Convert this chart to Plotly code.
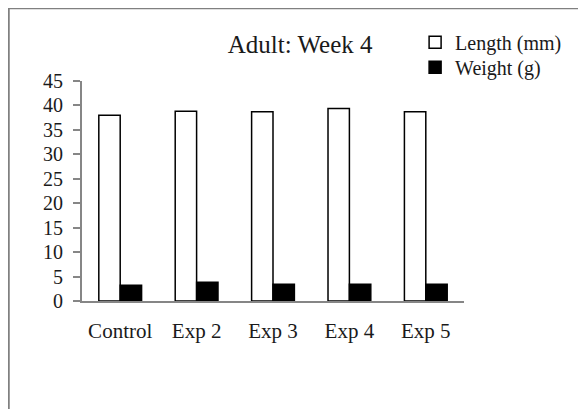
import plotly.graph_objects as go

# Adult: Week 4 - grouped bar chart
categories = ['Control', 'Exp 2', 'Exp 3', 'Exp 4', 'Exp 5']
length_mm = [38.0, 38.8, 38.7, 39.4, 38.7]
weight_g = [3.2, 3.85, 3.45, 3.45, 3.45]
y_ticks = [0, 5, 10, 15, 20, 25, 30, 35, 40, 45]

serif = 'Liberation Serif, Times New Roman, serif'
grey = '#868686'
ink = '#1a1a1a'

fig = go.Figure()
fig.add_trace(go.Bar(
    x=categories, y=length_mm, name='Length (mm)', legend='legend',
    marker=dict(color='white', line=dict(color='black', width=1.5))))
fig.add_trace(go.Bar(
    x=categories, y=weight_g, name='Weight (g)', legend='legend2',
    marker=dict(color='black', line=dict(color='black', width=1.5))))

leg = dict(xanchor='left', yanchor='middle', x=0.872,
           font=dict(family=serif, size=20, color=ink),
           itemwidth=30, bgcolor='rgba(0,0,0,0)', borderwidth=0)

# page body adds 8px offset, so figure is 8px smaller than the window
fig.update_layout(
    width=578, height=401,
    margin=dict(l=74, r=122, t=73, b=108, autoexpand=False),
    paper_bgcolor='white', plot_bgcolor='white',
    barmode='group', bargap=0.44, bargroupgap=0,
    font=dict(family=serif, size=20, color=ink),
    title=dict(text='Adult: Week 4', xref='paper', x=0.571, xanchor='center',
               y=0.91, yanchor='middle',
               font=dict(family=serif, size=25, color=ink)),
    legend=dict(leg, y=1.176),
    legend2=dict(leg, y=1.062),
    showlegend=True,
    shapes=[
        dict(type='line', xref='paper', yref='paper',
             x0=-0.2, x1=1.5, y0=1.332, y1=1.332,
             line=dict(color='#808080', width=2.5)),
        dict(type='line', xref='paper', yref='paper',
             x0=-0.1924, x1=-0.1924, y0=1.34, y1=-0.6,
             line=dict(color='#808080', width=2.5)),
    ],
)

fig.update_xaxes(
    showline=True, linecolor=grey, linewidth=2,
    ticks='', ticklabelstandoff=10, showgrid=False,
    tickfont=dict(family=serif, size=21, color=ink))
fig.update_yaxes(
    range=[0, 45], tickvals=y_ticks,
    showline=True, linecolor=grey, linewidth=2,
    ticks='outside', ticklen=7, tickcolor=grey, tickwidth=2,
    ticklabelstandoff=6, showgrid=False, zeroline=False,
    tickfont=dict(family=serif, size=20, color=ink))

fig.write_html("out.html")
